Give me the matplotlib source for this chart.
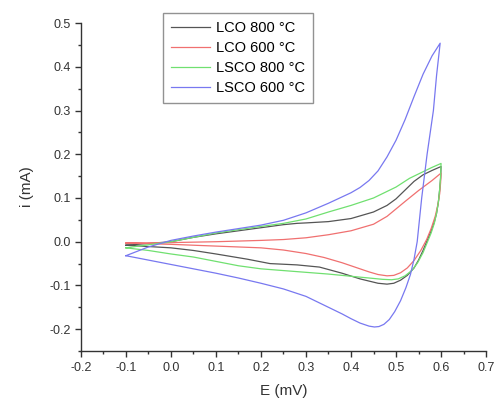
import numpy as np
import matplotlib
matplotlib.use('Agg')
import matplotlib.pyplot as plt
from matplotlib.ticker import MultipleLocator

plt.rcParams['font.family'] = ['Liberation Sans', 'DejaVu Sans']

labels = ['LCO 800 °C', 'LCO 600 °C', 'LSCO 800 °C', 'LSCO 600 °C']
colors = ['#555555', '#f07070', '#70e070', '#7878f0']

# each curve: forward scan (-0.1 -> 0.6) then reverse scan (0.6 -> -0.1)
lco800_E = [-0.1, 0.0, 0.05, 0.1, 0.15, 0.2, 0.25, 0.28, 0.3, 0.35, 0.4, 0.45, 0.48, 0.5, 0.52,
            0.54, 0.56, 0.58, 0.6,
            0.599, 0.597, 0.594, 0.59, 0.585, 0.578, 0.57, 0.56, 0.55, 0.54, 0.525, 0.51, 0.495,
            0.48, 0.46, 0.44, 0.42, 0.38, 0.33, 0.28, 0.22, 0.17, 0.1, 0.05, 0.0, -0.1]
lco800_i = [-0.008, 0.0, 0.01, 0.018, 0.025, 0.032, 0.039, 0.042, 0.043, 0.046, 0.053, 0.068,
            0.083, 0.098, 0.118, 0.138, 0.153, 0.163, 0.172,
            0.145, 0.12, 0.09, 0.065, 0.045, 0.025, 0.005, -0.02, -0.042, -0.06, -0.077, -0.088,
            -0.095, -0.097, -0.095, -0.09, -0.085, -0.072, -0.058, -0.053, -0.05, -0.04, -0.028,
            -0.02, -0.014, -0.008]

lco600_E = [-0.1, 0.0, 0.1, 0.2, 0.25, 0.3, 0.35, 0.4, 0.45, 0.48, 0.5, 0.52, 0.55, 0.58, 0.6,
            0.599, 0.597, 0.593, 0.587, 0.578, 0.568, 0.555, 0.54, 0.525, 0.51, 0.495, 0.48,
            0.46, 0.44, 0.42, 0.38, 0.34, 0.3, 0.25, 0.2, 0.1, 0.0, -0.1]
lco600_i = [-0.003, -0.002, 0.0, 0.003, 0.005, 0.009, 0.016, 0.025, 0.04, 0.058, 0.075, 0.092,
            0.117, 0.14, 0.157,
            0.135, 0.11, 0.085, 0.058, 0.03, 0.005, -0.02, -0.043, -0.06, -0.071, -0.077, -0.078,
            -0.075, -0.069, -0.062, -0.048, -0.036, -0.027, -0.019, -0.014, -0.01, -0.006, -0.003]

lsco800_E = [-0.1, 0.0, 0.1, 0.2, 0.25, 0.3, 0.35, 0.4, 0.45, 0.5, 0.53, 0.56, 0.58, 0.6,
             0.599, 0.597, 0.594, 0.59, 0.585, 0.578, 0.57, 0.56, 0.548, 0.535, 0.52, 0.505,
             0.49, 0.47, 0.44, 0.4, 0.35, 0.3, 0.25, 0.2, 0.15, 0.1, 0.05, 0.0, -0.05, -0.1]
lsco800_i = [-0.014, 0.0, 0.02, 0.035, 0.042, 0.052, 0.068, 0.083, 0.1, 0.125, 0.145, 0.16, 0.17,
             0.179,
             0.15, 0.12, 0.09, 0.065, 0.042, 0.02, 0.0, -0.025, -0.048, -0.066, -0.078, -0.085,
             -0.087, -0.086, -0.083, -0.079, -0.074, -0.07, -0.066, -0.062, -0.055, -0.045,
             -0.035, -0.028, -0.02, -0.014]

lsco600_E = [-0.1, -0.05, 0.0, 0.05, 0.1, 0.15, 0.2, 0.25, 0.3, 0.35, 0.4, 0.42, 0.44, 0.46, 0.48,
             0.5, 0.52, 0.54, 0.56, 0.58, 0.598,
             0.59, 0.583, 0.576, 0.569, 0.563, 0.557, 0.552, 0.547, 0.54, 0.532, 0.522, 0.51,
             0.497, 0.485, 0.473, 0.462, 0.452, 0.44, 0.42, 0.4, 0.38, 0.34, 0.3, 0.25, 0.2,
             0.15, 0.1, 0.05, 0.0, -0.05, -0.1]
lsco600_i = [-0.032, -0.012, 0.003, 0.013, 0.022, 0.03, 0.038, 0.049, 0.066, 0.088, 0.112, 0.124,
             0.14, 0.162, 0.194, 0.232, 0.279, 0.332, 0.383, 0.425, 0.454,
             0.38, 0.3, 0.25, 0.2, 0.15, 0.1, 0.05, 0.0, -0.04, -0.075, -0.105, -0.135, -0.16,
             -0.178, -0.189, -0.194, -0.195, -0.193, -0.186, -0.176, -0.165, -0.145, -0.125,
             -0.108, -0.095, -0.083, -0.072, -0.062, -0.052, -0.042, -0.032]

curves = [(lco800_E, lco800_i), (lco600_E, lco600_i), (lsco800_E, lsco800_i), (lsco600_E, lsco600_i)]

fig = plt.figure(figsize=(4.96, 3.98), dpi=100)
ax = fig.add_axes([0.163, 0.118, 0.817, 0.824])

for (E, i), c, lab in zip(curves, colors, labels):
    ax.plot(E, i, color=c, linewidth=0.9, label=lab)

ax.set_xlim(-0.2, 0.7)
ax.set_ylim(-0.25, 0.5)
ax.xaxis.set_major_locator(MultipleLocator(0.1))
ax.xaxis.set_minor_locator(MultipleLocator(0.05))
ax.yaxis.set_major_locator(MultipleLocator(0.1))
ax.yaxis.set_minor_locator(MultipleLocator(0.05))
ax.xaxis.set_major_formatter(plt.FuncFormatter(lambda v, p: f'{v:.1f}'))
ax.yaxis.set_major_formatter(plt.FuncFormatter(lambda v, p: f'{v:.1f}'))
ax.spines['top'].set_visible(False)
ax.spines['right'].set_visible(False)
for s in ('left', 'bottom'):
    ax.spines[s].set_color('#333333')
    ax.spines[s].set_linewidth(1.0)
ax.tick_params(which='major', direction='out', length=4, width=1, labelsize=9, colors='#333333')
ax.tick_params(which='minor', direction='out', length=2.5, width=1, colors='#333333')
ax.tick_params(axis='x', which='major', pad=4)
ax.tick_params(axis='y', which='major', pad=3)
ax.set_xlabel('E (mV)', fontsize=11, color='#333333', labelpad=7)
ax.set_ylabel('i (mA)', fontsize=11, color='#333333', labelpad=11)

leg = ax.legend(loc='upper left', bbox_to_anchor=(163 / 496, 1 - 13 / 398),
                bbox_transform=fig.transFigure, fontsize=10.5, frameon=True, fancybox=False,
                borderaxespad=0, handlelength=2.7, handletextpad=0.4, labelspacing=0.42,
                borderpad=0.55)
leg.get_frame().set_edgecolor('#777777')
leg.get_frame().set_linewidth(1.0)
leg.set_zorder(5)

fig.savefig('out.png', dpi=100)
